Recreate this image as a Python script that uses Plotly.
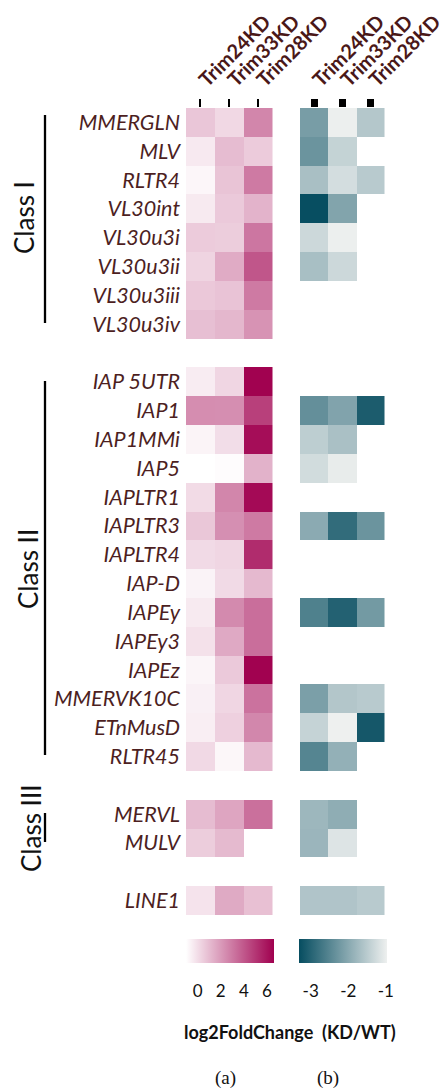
import plotly.graph_objects as go

# ---------------- data ----------------
columns = ["Trim24KD", "Trim33KD", "Trim28KD"]

class1 = ["MMERGLN", "MLV", "RLTR4", "VL30int", "VL30u3i", "VL30u3ii", "VL30u3iii", "VL30u3iv"]
class2 = ["IAP 5UTR", "IAP1", "IAP1MMi", "IAP5", "IAPLTR1", "IAPLTR3", "IAPLTR4", "IAP-D",
          "IAPEy", "IAPEy3", "IAPEz", "MMERVK10C", "ETnMusD", "RLTR45"]
class3 = ["MERVL", "MULV"]
other = ["LINE1"]
groups = [class1, class2, class3, other]
group_labels = ["Class I", "Class II", "Class III", None]

# (a) log2FoldChange, up-regulated
a_trim24 = [0.70, -0.35, -0.73, -0.37, 0.55, 0.28, 0.64, 0.91,
            -0.43, 2.40, -0.67, -1.00, 0.07, 0.67, 0.10, -0.64, -0.37, -0.11, -0.70, -0.55, -0.49, 0.13,
            1.00, 0.49,
            -0.17]
a_trim33 = [0.16, 1.00, 0.76, 0.61, 0.49, 1.50, 0.79, 1.14,
            0.22, 2.37, 0.01, -0.91, 2.61, 2.34, 0.22, 0.10, 2.49, 1.56, 0.61, 0.22, 0.40, -0.76,
            1.68, 1.06,
            1.53]
a_trim28 = [2.61, 0.55, 2.96, 1.26, 3.08, 4.04, 2.96, 2.22,
            6.55, 4.69, 6.21, 1.30, 6.30, 2.96, 5.29, 1.09, 3.32, 3.32, 6.55, 3.20, 2.58, 1.09,
            3.26, None,
            0.88]

# (b) log2FoldChange, down-regulated
b_trim24 = [-2.16, -2.29, -1.67, -3.30, -1.31, -1.68, None, None,
            None, -2.36, -1.46, -1.26, None, -1.97, None, None, -2.57, None, None, -2.13, -1.38, -2.51,
            -1.79, -1.81,
            -1.60]
b_trim33 = [-0.99, -1.39, -1.24, -2.06, -0.99, -1.31, None, None,
            None, -2.07, -1.66, -1.03, None, -2.87, None, None, -3.02, None, None, -1.57, -0.97, -1.89,
            -1.93, -1.14,
            -1.60]
b_trim28 = [-1.56, None, -1.51, None, None, None, None, None,
            None, -3.09, None, None, None, -2.29, None, None, -2.21, None, None, -1.51, -3.16, None,
            None, None,
            -1.51]

a_ticks = [0, 2, 4, 6]
a_ticktext = ["0", "2", "4", "6"]
b_ticks = [-3, -2, -1]
b_ticktext = ["-3", "-2", "-1"]

# ---------------- layout helpers ----------------
W, H = 444, 1091
def px(x):
    return x / W
def py(y):
    return 1 - y / H

# row positions: groups separated by one empty row
names, pos = [], []
p = 0
for g in groups:
    for n in g:
        names.append(n)
        pos.append(p)
        p += 1
    p += 1
n_rows = p - 1

def build(cols):
    z = [[None] * 3 for _ in range(n_rows)]
    for i, r in enumerate(pos):
        for j, c in enumerate(cols):
            z[r][j] = c[i]
    return z

za = build([a_trim24, a_trim33, a_trim28])
zb = build([b_trim24, b_trim33, b_trim28])
rows = list(range(n_rows))

top_px, bot_px = 108, 915

pink_scale = [[0, "#ffffff"], [1, "#a0004f"]]
teal_scale = [[0, "#064d60"], [1, "#eef0ef"]]

cb_common = dict(orientation="h", lenmode="pixels", len=88, thickness=24,
                 xanchor="center", y=py(939), yanchor="top",
                 xpad=0, ypad=0, outlinewidth=0,
                 ticks="outside", ticklen=14, tickcolor="rgba(255,255,255,0)",
                 tickfont=dict(family="Lato", size=17, color="#111111"))

fig = go.Figure()
fig.add_trace(go.Heatmap(
    z=za, x=[0, 1, 2], y=rows, xaxis="x", yaxis="y",
    colorscale=pink_scale, zmin=-1, zmax=6.6, hoverongaps=False,
    colorbar=dict(x=px(230), tickvals=a_ticks, ticktext=a_ticktext, **cb_common),
))
fig.add_trace(go.Heatmap(
    z=zb, x=[0, 1, 2], y=rows, xaxis="x2", yaxis="y2",
    colorscale=teal_scale, zmin=-3.31, zmax=-0.97, hoverongaps=False,
    colorbar=dict(x=px(343), tickvals=b_ticks, ticktext=b_ticktext, **cb_common),
))

label_col = "#4d1f1f"
xfont = dict(family="Lato", size=20, color="#4a1818", weight="bold")
ydom = [py(bot_px), py(top_px)]

common_x = dict(side="top", range=[-0.5, 2.5], tickvals=[0, 1, 2], ticktext=columns,
                tickangle=-45, ticks="outside", ticklen=8, tickcolor="black",
                showgrid=False, zeroline=False, showline=False, tickfont=xfont,
                automargin=False, ticklabeloverflow="allow")

fig.update_layout(
    width=W, height=H, margin=dict(l=0, r=0, t=0, b=0, autoexpand=False),
    plot_bgcolor="white", paper_bgcolor="white",
    xaxis=dict(domain=[px(186), px(272.5)], anchor="y", tickwidth=2, **common_x),
    xaxis2=dict(domain=[px(300), px(384.5)], anchor="y2", tickwidth=7, **common_x),
    yaxis=dict(domain=ydom, range=[n_rows - 0.5, -0.5], tickvals=pos, ticktext=names,
               ticks="", showgrid=False, zeroline=False, anchor="x", ticklabelstandoff=5,
               automargin=False, ticklabeloverflow="allow",
               tickfont=dict(family="Lato", size=21.5, color=label_col, style="italic")),
    yaxis2=dict(domain=ydom, range=[n_rows - 0.5, -0.5], showticklabels=False,
                ticks="", showgrid=False, zeroline=False, anchor="x2", automargin=False),
    showlegend=False,
)

# class brackets and labels
bracket_px = [(115, 323), (381, 755), (813, 842)]
label_centers = [(24, 218), (28, 569), (31, 828)]
for lab, (y0, y1), (cx, cy) in zip(group_labels, bracket_px, label_centers):
    if lab is None:
        continue
    fig.add_shape(type="line", xref="paper", yref="paper",
                  x0=px(45), x1=px(45), y0=py(y0), y1=py(y1),
                  line=dict(color="black", width=2.3))
    fig.add_annotation(text=lab, xref="paper", yref="paper", x=px(cx), y=py(cy),
                       textangle=-90, showarrow=False, xanchor="center", yanchor="middle",
                       font=dict(family="Lato", size=26, color="#111111"))

fig.add_annotation(text="<b>log2FoldChange  (KD/WT)</b>", xref="paper", yref="paper",
                   x=px(290), y=py(1032), showarrow=False, xanchor="center", yanchor="middle",
                   font=dict(family="Lato", size=18, color="#111111"))
for t, cx in [("(a)", 225), ("(b)", 328)]:
    fig.add_annotation(text=t, xref="paper", yref="paper", x=px(cx), y=py(1090),
                       showarrow=False, xanchor="center", yanchor="bottom", borderpad=0,
                       font=dict(family="Liberation Serif", size=19, color="#111111"))

fig.write_html("out.html", config={"displayModeBar": False},
               post_script="document.body.style.margin='0';document.body.style.overflow='hidden';")
